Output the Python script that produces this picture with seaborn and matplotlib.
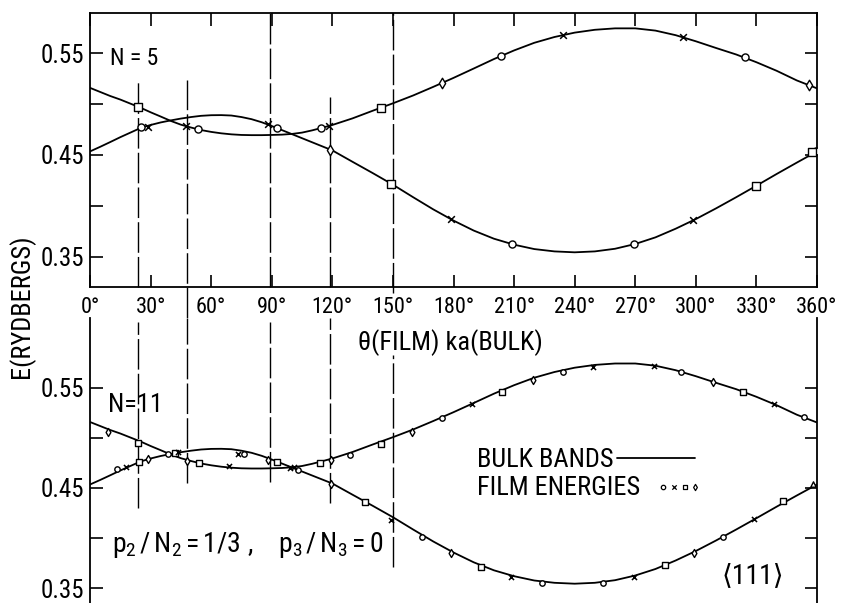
import matplotlib
matplotlib.use("Agg")
import matplotlib.pyplot as plt
import numpy as np
import pandas as pd
import seaborn as sns
from matplotlib import font_manager as fm

# ---------------- data ----------------
bulk_theta = [0, 5, 10, 15, 20, 25, 30, 35, 40, 45, 50, 55, 60, 65, 70, 75, 80, 85,
              90, 95, 100, 105, 110, 115, 120, 130, 140, 150, 160, 170, 180, 190,
              200, 210, 220, 230, 240, 250, 260, 270, 280, 290, 300, 310, 320, 330,
              340, 350, 360]
band_upper = [0.5160, 0.5120, 0.5080, 0.5045, 0.5005, 0.4965, 0.4920, 0.4878, 0.4835,
              0.4798, 0.4770, 0.4745, 0.4727, 0.4713, 0.4703, 0.4697, 0.4695, 0.4695,
              0.4697, 0.4700, 0.4707, 0.4720, 0.4742, 0.4768, 0.4795, 0.4860, 0.4935,
              0.5008, 0.5085, 0.5170, 0.5258, 0.5350, 0.5443, 0.5528, 0.5603, 0.5660,
              0.5703, 0.5731, 0.5745, 0.5745, 0.5723, 0.5678, 0.5618, 0.5552, 0.5488,
              0.5412, 0.5328, 0.5233, 0.5155]
band_lower = [0.4535, 0.4580, 0.4627, 0.4675, 0.4720, 0.4765, 0.4795, 0.4820, 0.4840,
              0.4858, 0.4873, 0.4885, 0.4891, 0.4892, 0.4888, 0.4873, 0.4852, 0.4822,
              0.4785, 0.4745, 0.4705, 0.4665, 0.4625, 0.4585, 0.4545, 0.4433, 0.4322,
              0.4208, 0.4085, 0.3965, 0.3855, 0.3757, 0.3677, 0.3618, 0.3575, 0.3552,
              0.3543, 0.3552, 0.3578, 0.3625, 0.3690, 0.3775, 0.3870, 0.3975, 0.4085,
              0.4198, 0.4313, 0.4425, 0.4535]

# film energies, N = 5
n5_theta = [23.6, 47.5, 53.3, 114.2, 118.5, 144.1, 174.1, 203.5, 234.4, 293.8, 324.4, 356.0,
            25.1, 28.9, 88.0, 92.4, 119.0, 149.0, 178.6, 209.0, 269.5, 298.4, 329.8, 357.3, 359.6]
n5_energy = [0.4975, 0.4785, 0.4753, 0.4763, 0.4785, 0.4965, 0.5211, 0.5474, 0.5680, 0.5657, 0.5460, 0.5188,
             0.4772, 0.4778, 0.4802, 0.4769, 0.4550, 0.4215, 0.3868, 0.3625, 0.3625, 0.3860, 0.4198, 0.4530, 0.4535]
n5_marker = ['s', 'x', 'o', 'o', 'x', 's', 'd', 'o', 'x', 'x', 'o', 'd',
             'o', 'x', 'x', 'o', 'd', 's', 'x', 'o', 'o', 'x', 's', 's', 'o']

# film energies, N = 11
n11_theta = [8.7, 23.6, 38.5, 48.2, 54.0, 68.8, 98.8, 113.9, 119.2, 128.6, 144.2, 159.3,
             174.3, 189.0, 203.9, 219.3, 234.0, 248.9, 279.5, 292.8, 308.7, 323.2, 338.7, 353.4,
             13.5, 17.8, 24.4, 28.9, 42.1, 43.7, 73.5, 76.4, 88.3, 92.8, 101.2, 103.0,
             119.2, 136.0, 148.9, 164.5, 178.6, 193.5, 208.5, 223.8, 254.0, 269.2, 284.7,
             299.1, 313.4, 328.9, 343.3, 358.2]
n11_energy = [0.5063, 0.4947, 0.4840, 0.4773, 0.4753, 0.4717, 0.4700, 0.4753, 0.4780, 0.4830, 0.4940, 0.5058,
              0.5197, 0.5340, 0.5463, 0.5580, 0.5660, 0.5707, 0.5720, 0.5657, 0.5563, 0.5457, 0.5340, 0.5207,
              0.4687, 0.4713, 0.4763, 0.4787, 0.4853, 0.4863, 0.4840, 0.4840, 0.4780, 0.4757, 0.4705, 0.4680,
              0.4537, 0.4363, 0.4185, 0.4007, 0.3847, 0.3713, 0.3607, 0.3547, 0.3553, 0.3607, 0.3730,
              0.3853, 0.4007, 0.4187, 0.4373, 0.4540]
n11_marker = ['d', 's', 'o', 'd', 's', 'x', 'x', 's', 'd', 'o', 's', 'd',
              'o', 'x', 's', 'd', 'o', 'x', 'x', 'o', 'd', 's', 'x', 'o',
              'o', 'x', 's', 'd', 's', 'x', 'x', 'o', 'd', 's', 'x', 'o',
              'd', 's', 'x', 'o', 'd', 's', 'x', 'o', 'o', 'x', 's',
              'd', 'o', 'x', 's', '^']

x_ticks = [0, 30, 60, 90, 120, 150, 180, 210, 240, 270, 300, 330, 360]
x_tick_labels = ['0°', '30°', '60°', '90°', '120°', '150°', '180°', '210°', '240°',
                 '270°', '300°', '330°', '360°']
y_major = [0.35, 0.45, 0.55]
y_minor = [0.40, 0.50]
cut_theta = [24, 48, 89, 119, 150]

# ---------------- style ----------------
sns.set_theme(style="ticks", rc={
    "text.color": "black", "axes.labelcolor": "black", "axes.edgecolor": "black",
    "xtick.color": "black", "ytick.color": "black", "axes.linewidth": 1.3,
})
names = {f.name for f in fm.fontManager.ttflist}
FONT = "DejaVu Sans"
for cand in ["Roboto Condensed", "Barlow Condensed", "Archivo Narrow", "PT Sans Narrow",
             "Liberation Sans Narrow"]:
    if cand in names:
        FONT = cand
        break
plt.rcParams["font.family"] = [FONT, "DejaVu Sans"]
plt.rcParams["mathtext.fontset"] = "custom"
plt.rcParams["mathtext.rm"] = FONT
plt.rcParams["mathtext.it"] = FONT
plt.rcParams["mathtext.bf"] = FONT

W, H = 847, 603
fig = plt.figure(figsize=(W / 100, H / 100), dpi=100)
ax1 = fig.add_axes([90 / W, 1 - 287 / H, 727 / W, 274 / H])
ax2 = fig.add_axes([90 / W, 1 - 620 / H, 727 / W, 302 / H])

bulk = pd.DataFrame({
    "theta": bulk_theta * 2,
    "E": band_upper + band_lower,
    "band": ["upper"] * len(bulk_theta) + ["lower"] * len(bulk_theta),
})
film5 = pd.DataFrame({"theta": n5_theta, "E": n5_energy, "m": n5_marker})
film11 = pd.DataFrame({"theta": n11_theta, "E": n11_energy, "m": n11_marker})

DASH = (0, (22, 3))


def draw_panel(ax, film, size, ylim):
    sns.lineplot(data=bulk, x="theta", y="E", units="band", estimator=None,
                 color="black", lw=1.3, ax=ax, legend=False, sort=False)
    for m, sub in film.groupby("m"):
        if m == "x":
            sns.scatterplot(data=sub, x="theta", y="E", marker="x", s=size * 0.9,
                            color="black", linewidth=1.1, ax=ax, zorder=4, legend=False)
        else:
            s = size * (1.1 if m == "d" else 1.0)
            sns.scatterplot(data=sub, x="theta", y="E", marker=m, s=s,
                            color="white", edgecolor="black", linewidth=1.0,
                            ax=ax, zorder=4, legend=False)
    ax.set_xlim(0, 360)
    ax.set_ylim(*ylim)
    ax.set_xlabel("")
    ax.set_ylabel("")
    ax.set_yticks(y_major)
    ax.set_yticklabels([f"{v:.2f}" for v in y_major], fontsize=18)
    ax.set_yticks(y_minor, minor=True)
    ax.tick_params(axis="y", which="both", direction="in", length=9, width=1.2,
                   left=True, right=True, pad=4)


# ---- top panel (N = 5)
top_lim = (0.3202, 0.5896)
draw_panel(ax1, film5, 26, top_lim)
ax1.set_xticks(x_ticks)
ax1.set_xticklabels(x_tick_labels, fontsize=16)
ax1.tick_params(axis="x", which="both", direction="in", length=9, width=1.2,
                top=True, bottom=True, pad=7)
top_y0 = [0.5237, 0.5237, top_lim[1], 0.5070, top_lim[1]]
top_y1 = [top_lim[0], 0.2897, top_lim[0], top_lim[0], 0.3143]
ax1.vlines(cut_theta, top_y1, top_y0, colors="black", linewidth=1.0,
           linestyles=[DASH], clip_on=False, zorder=2)
ax1.text(0.0275, 0.810, "N = 5", transform=ax1.transAxes, fontsize=17,
         ha="left", va="baseline")

# ---- bottom panel (N = 11)
bot_lim = (0.318, 0.620)
draw_panel(ax2, film11, 15, bot_lim)
ax2.set_xticks([])
ax2.spines["top"].set_visible(False)
ax2.spines["bottom"].set_visible(False)
bot_y0 = [0.616, 0.620, 0.616, 0.620, 0.583]
bot_y1 = [0.430, 0.455, 0.456, 0.435, 0.371]
ax2.vlines(cut_theta, bot_y1, bot_y0, colors="black", linewidth=1.0,
           linestyles=[DASH], zorder=2)
ax2.text(0.0248, 0.6887, "N=11", transform=ax2.transAxes, fontsize=19,
         ha="left", va="baseline")
ax2.text(0.0303, 0.2252,
         r"$\mathregular{p_2\,/\,N_2 = 1/3\ ,\ \ \ p_3\,/\,N_3 = 0}$",
         transform=ax2.transAxes, fontsize=20, ha="left", va="baseline")
ax2.text(0.912, 0.1225, "⟨111⟩", transform=ax2.transAxes, fontsize=20,
         ha="center", va="baseline")

# legend block
ax2.text(0.5323, 0.5076, "BULK BANDS", transform=ax2.transAxes, fontsize=19,
         ha="left", va="baseline")
ax2.plot([0.7249, 0.8322], [0.5364, 0.5364], transform=ax2.transAxes,
         color="black", lw=1.3)
ax2.text(0.5323, 0.4139, "FILM ENERGIES", transform=ax2.transAxes, fontsize=19,
         ha="left", va="baseline")
leg_x = [0.7885, 0.8033, 0.8184, 0.8322]
for xx, mk in zip(leg_x, ["o", "x", "s", "d"]):
    if mk == "x":
        ax2.scatter([xx], [0.4414], marker="x", s=10, color="black", linewidth=0.9,
                    transform=ax2.transAxes, clip_on=False)
    else:
        ax2.scatter([xx], [0.4414], marker=mk, s=10, facecolor="white",
                    edgecolor="black", linewidth=0.9, transform=ax2.transAxes,
                    clip_on=False)

# axis titles
fig.text(22 / W, 1 - 306 / H, "E(RYDBERGS)", rotation=90, fontsize=19,
         ha="center", va="center")
fig.text(450 / W, 1 - 343 / H, "θ(FILM) ka(BULK)", fontsize=19,
         ha="center", va="center")

fig.savefig("out.png", dpi=100)
